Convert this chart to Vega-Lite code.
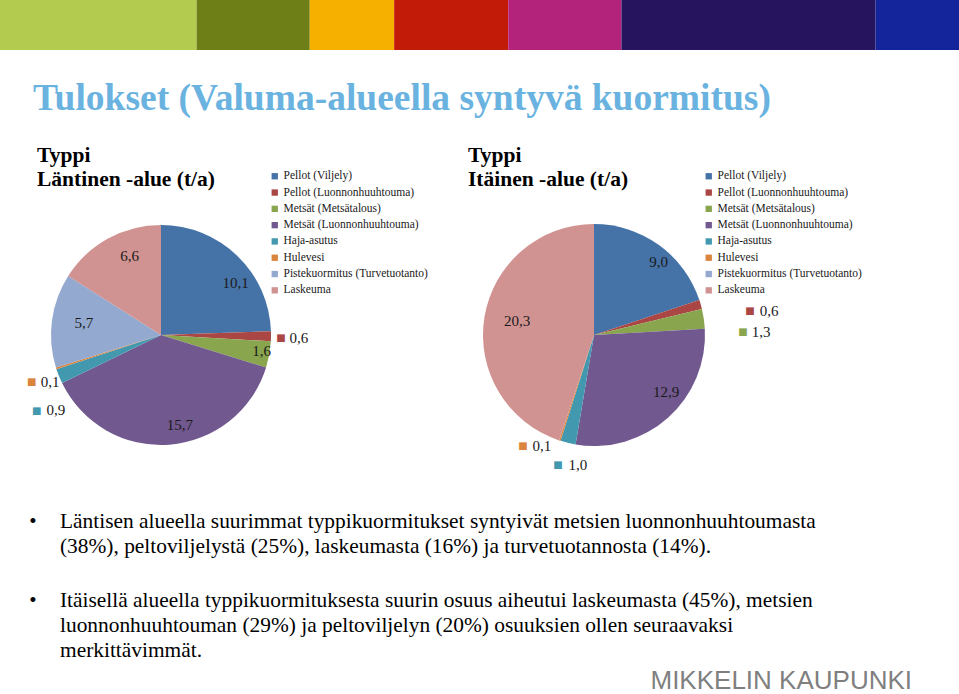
{
  "$schema": "https://vega.github.io/schema/vega-lite/v6.json",
  "padding": 0,
  "background": "white",
  "spacing": 4,
  "datasets": {
    "band": [
      {"i": 1, "seg": "a", "w": 20.5},
      {"i": 2, "seg": "b", "w": 11.8},
      {"i": 3, "seg": "c", "w": 8.8},
      {"i": 4, "seg": "d", "w": 11.9},
      {"i": 5, "seg": "e", "w": 11.8},
      {"i": 6, "seg": "f", "w": 26.5},
      {"i": 7, "seg": "g", "w": 8.7}
    ],
    "west": [
      {"i": 1, "cat": "Pellot (Viljely)", "value": 10.1},
      {"i": 2, "cat": "Pellot (Luonnonhuuhtouma)", "value": 0.6},
      {"i": 3, "cat": "Metsät (Metsätalous)", "value": 1.6},
      {"i": 4, "cat": "Metsät (Luonnonhuuhtouma)", "value": 15.7},
      {"i": 5, "cat": "Haja-asutus", "value": 0.9},
      {"i": 6, "cat": "Hulevesi", "value": 0.1},
      {"i": 7, "cat": "Pistekuormitus (Turvetuotanto)", "value": 5.7},
      {"i": 8, "cat": "Laskeuma", "value": 6.6}
    ],
    "east": [
      {"i": 1, "cat": "Pellot (Viljely)", "value": 9.0},
      {"i": 2, "cat": "Pellot (Luonnonhuuhtouma)", "value": 0.6},
      {"i": 3, "cat": "Metsät (Metsätalous)", "value": 1.3},
      {"i": 4, "cat": "Metsät (Luonnonhuuhtouma)", "value": 12.9},
      {"i": 5, "cat": "Haja-asutus", "value": 1.0},
      {"i": 6, "cat": "Hulevesi", "value": 0.1},
      {"i": 7, "cat": "Pistekuormitus (Turvetuotanto)", "value": 0},
      {"i": 8, "cat": "Laskeuma", "value": 20.3}
    ],
    "bullets": [
      {"b": 1, "lines": ["Läntisen alueella suurimmat typpikuormitukset syntyivät metsien luonnonhuuhtoumasta", "(38%), peltoviljelystä (25%), laskeumasta (16%) ja turvetuotannosta (14%)."]},
      {"b": 2, "lines": ["Itäisellä alueella typpikuormituksesta suurin osuus aiheutui laskeumasta (45%), metsien", "luonnonhuuhtouman (29%) ja peltoviljelyn (20%) osuuksien ollen seuraavaksi", "merkittävimmät."]}
    ],
    "logo": [{"t": "MIKKELIN KAUPUNKI"}]
  },
  "vconcat": [
    {
      "spacing": 27,
      "resolve": {"scale": {"color": "independent"}, "legend": {"color": "independent"}},
      "vconcat": [
        {
          "width": 959,
          "height": 50,
          "data": {"name": "band"},
          "mark": {"type": "bar"},
          "encoding": {
            "x": {"field": "w", "type": "quantitative", "stack": "zero", "scale": {"domain": [0, 100], "nice": false}, "axis": null},
            "y": {"datum": "band", "type": "nominal", "scale": {"paddingInner": 0, "paddingOuter": 0}, "axis": null},
            "color": {"field": "seg", "type": "nominal", "scale": {"domain": ["a", "b", "c", "d", "e", "f", "g"], "range": ["#B3CB4E", "#6E7F17", "#F6B000", "#C21B08", "#B4237B", "#26145E", "#14249A"]}, "legend": null},
            "order": {"field": "i", "type": "quantitative"}
          },
          "title": {
            "text": "Tulokset (Valuma-alueella syntyvä kuormitus)",
            "orient": "bottom",
            "anchor": "start",
            "frame": "group",
            "dx": 33,
            "offset": 60,
            "baseline": "alphabetic",
            "font": "Liberation Serif",
            "fontSize": 37.5,
            "fontWeight": "bold",
            "color": "#6AB3E0"
          }
        },
        {
          "bounds": "flush",
          "spacing": 20,
          "resolve": {"scale": {"color": "independent", "theta": "independent"}, "legend": {"color": "independent"}},
          "hconcat": [
            {
              "width": 322,
              "height": 282,
              "title": {"text": ["Typpi", "Läntinen -alue (t/a)"], "anchor": "start", "frame": "group", "dx": 37, "offset": -20, "font": "Liberation Serif", "fontSize": 21.5, "fontWeight": "bold", "color": "#000000", "lineHeight": 24},
              "data": {"name": "west"},
              "encoding": {
                "theta": {"field": "value", "type": "quantitative", "stack": true},
                "order": {"field": "i", "type": "quantitative"}
              },
              "layer": [
                {
                  "mark": {"type": "arc", "outerRadius": 110},
                  "encoding": {
                    "color": {
                      "field": "cat", "type": "nominal",
                      "scale": {"domain": ["Pellot (Viljely)", "Pellot (Luonnonhuuhtouma)", "Metsät (Metsätalous)", "Metsät (Luonnonhuuhtouma)", "Haja-asutus", "Hulevesi", "Pistekuormitus (Turvetuotanto)", "Laskeuma"], "range": ["#4572A7", "#AA4643", "#89A54E", "#71588F", "#4198AF", "#DB843D", "#93A9CF", "#D19392"]},
                      "legend": {"orient": "none", "legendX": 269, "legendY": -23.5, "title": null, "symbolType": "square", "symbolSize": 40, "symbolStrokeWidth": 0, "labelFont": "Liberation Serif", "labelFontSize": 11.5, "labelColor": "#1a1a1a", "rowPadding": 3.3, "padding": 0, "labelOffset": 3}
                    }
                  }
                },
                {
                  "mark": {"type": "text", "radius": 90, "dx": 12, "font": "Liberation Serif", "fontSize": 15, "color": "#1a1a1a"},
                  "encoding": {"detail": {"field": "cat"}, "text": {"condition": {"test": "datum.value >= 1.5 && datum.cat !== 'Pellot (Viljely)'", "field": "value", "type": "quantitative", "format": ".1f"}, "value": ""}}
                },
                {
                  "mark": {"type": "text", "radius": 90, "dx": 12, "dy": 13, "font": "Liberation Serif", "fontSize": 15, "color": "#1a1a1a"},
                  "encoding": {"detail": {"field": "cat"}, "text": {"condition": {"test": "datum.cat === 'Pellot (Viljely)'", "field": "value", "type": "quantitative", "format": ".1f"}, "value": ""}}
                },
                {
                  "mark": {"type": "text", "radius": 130, "dx": 8, "dy": 1.5, "font": "Liberation Serif", "fontSize": 15, "color": "#1a1a1a"},
                  "encoding": {"detail": {"field": "cat"}, "text": {"condition": {"test": "datum.cat === 'Pellot (Luonnonhuuhtouma)'", "field": "value", "type": "quantitative", "format": ".1f"}, "value": ""}}
                },
                {
                  "mark": {"type": "text", "radius": 130, "dx": -10, "dy": 1.5, "font": "DejaVu Sans", "fontSize": 10},
                  "encoding": {"color": {"field": "cat", "type": "nominal"}, "text": {"condition": {"test": "datum.cat === 'Pellot (Luonnonhuuhtouma)'", "value": "■"}, "value": ""}}
                },
                {
                  "mark": {"type": "text", "radius": 130, "dx": 13, "dy": 7.6, "font": "Liberation Serif", "fontSize": 15, "color": "#1a1a1a"},
                  "encoding": {"detail": {"field": "cat"}, "text": {"condition": {"test": "datum.cat === 'Hulevesi'", "field": "value", "type": "quantitative", "format": ".1f"}, "value": ""}}
                },
                {
                  "mark": {"type": "text", "radius": 130, "dx": -5.4, "dy": 7.6, "font": "DejaVu Sans", "fontSize": 10},
                  "encoding": {"color": {"field": "cat", "type": "nominal"}, "text": {"condition": {"test": "datum.cat === 'Hulevesi'", "value": "■"}, "value": ""}}
                },
                {
                  "mark": {"type": "text", "radius": 130, "dx": 15.5, "dy": 26.3, "font": "Liberation Serif", "fontSize": 15, "color": "#1a1a1a"},
                  "encoding": {"detail": {"field": "cat"}, "text": {"condition": {"test": "datum.cat === 'Haja-asutus'", "field": "value", "type": "quantitative", "format": ".1f"}, "value": ""}}
                },
                {
                  "mark": {"type": "text", "radius": 130, "dx": -3.8, "dy": 27, "font": "DejaVu Sans", "fontSize": 10},
                  "encoding": {"color": {"field": "cat", "type": "nominal"}, "text": {"condition": {"test": "datum.cat === 'Haja-asutus'", "value": "■"}, "value": ""}}
                }
              ]
            },
            {
              "width": 504,
              "height": 282,
              "title": {"text": ["Typpi", "Itäinen -alue (t/a)"], "anchor": "start", "frame": "group", "dx": 126, "offset": -20, "font": "Liberation Serif", "fontSize": 21.5, "fontWeight": "bold", "color": "#000000", "lineHeight": 24},
              "data": {"name": "east"},
              "encoding": {
                "theta": {"field": "value", "type": "quantitative", "stack": true},
                "order": {"field": "i", "type": "quantitative"}
              },
              "layer": [
                {
                  "mark": {"type": "arc", "outerRadius": 111},
                  "encoding": {
                    "color": {
                      "field": "cat", "type": "nominal",
                      "scale": {"domain": ["Pellot (Viljely)", "Pellot (Luonnonhuuhtouma)", "Metsät (Metsätalous)", "Metsät (Luonnonhuuhtouma)", "Haja-asutus", "Hulevesi", "Pistekuormitus (Turvetuotanto)", "Laskeuma"], "range": ["#4572A7", "#AA4643", "#89A54E", "#71588F", "#4198AF", "#DB843D", "#93A9CF", "#D19392"]},
                      "legend": {"orient": "none", "legendX": 361, "legendY": -23.5, "title": null, "symbolType": "square", "symbolSize": 40, "symbolStrokeWidth": 0, "labelFont": "Liberation Serif", "labelFontSize": 11.5, "labelColor": "#1a1a1a", "rowPadding": 3.3, "padding": 0, "labelOffset": 3}
                    }
                  }
                },
                {
                  "mark": {"type": "text", "radius": 90, "dx": 12, "font": "Liberation Serif", "fontSize": 15, "color": "#1a1a1a"},
                  "encoding": {"detail": {"field": "cat"}, "text": {"condition": {"test": "datum.value >= 1.5 && datum.cat !== 'Metsät (Luonnonhuuhtouma)'", "field": "value", "type": "quantitative", "format": ".1f"}, "value": ""}}
                },
                {
                  "mark": {"type": "text", "radius": 90, "dx": 12, "dy": -10, "font": "Liberation Serif", "fontSize": 15, "color": "#1a1a1a"},
                  "encoding": {"detail": {"field": "cat"}, "text": {"condition": {"test": "datum.cat === 'Metsät (Luonnonhuuhtouma)'", "field": "value", "type": "quantitative", "format": ".1f"}, "value": ""}}
                },
                {
                  "mark": {"type": "text", "radius": 130, "dx": 50, "dy": 11.7, "font": "Liberation Serif", "fontSize": 15, "color": "#1a1a1a"},
                  "encoding": {"detail": {"field": "cat"}, "text": {"condition": {"test": "datum.cat === 'Pellot (Luonnonhuuhtouma)'", "field": "value", "type": "quantitative", "format": ".1f"}, "value": ""}}
                },
                {
                  "mark": {"type": "text", "radius": 130, "dx": 31, "dy": 11.7, "font": "DejaVu Sans", "fontSize": 10},
                  "encoding": {"color": {"field": "cat", "type": "nominal"}, "text": {"condition": {"test": "datum.cat === 'Pellot (Luonnonhuuhtouma)'", "value": "■"}, "value": ""}}
                },
                {
                  "mark": {"type": "text", "radius": 130, "dx": 38.4, "dy": 15.9, "font": "Liberation Serif", "fontSize": 15, "color": "#1a1a1a"},
                  "encoding": {"detail": {"field": "cat"}, "text": {"condition": {"test": "datum.cat === 'Metsät (Metsätalous)'", "field": "value", "type": "quantitative", "format": ".1f"}, "value": ""}}
                },
                {
                  "mark": {"type": "text", "radius": 130, "dx": 20.4, "dy": 15.9, "font": "DejaVu Sans", "fontSize": 10},
                  "encoding": {"color": {"field": "cat", "type": "nominal"}, "text": {"condition": {"test": "datum.cat === 'Metsät (Metsätalous)'", "value": "■"}, "value": ""}}
                },
                {
                  "mark": {"type": "text", "radius": 130, "dx": -12, "dy": -12.7, "font": "Liberation Serif", "fontSize": 15, "color": "#1a1a1a"},
                  "encoding": {"detail": {"field": "cat"}, "text": {"condition": {"test": "datum.cat === 'Hulevesi'", "field": "value", "type": "quantitative", "format": ".1f"}, "value": ""}}
                },
                {
                  "mark": {"type": "text", "radius": 130, "dx": -31, "dy": -12.7, "font": "DejaVu Sans", "fontSize": 10},
                  "encoding": {"color": {"field": "cat", "type": "nominal"}, "text": {"condition": {"test": "datum.cat === 'Hulevesi'", "value": "■"}, "value": ""}}
                },
                {
                  "mark": {"type": "text", "radius": 130, "dx": 14.3, "dy": 3.6, "font": "Liberation Serif", "fontSize": 15, "color": "#1a1a1a"},
                  "encoding": {"detail": {"field": "cat"}, "text": {"condition": {"test": "datum.cat === 'Haja-asutus'", "field": "value", "type": "quantitative", "format": ".1f"}, "value": ""}}
                },
                {
                  "mark": {"type": "text", "radius": 130, "dx": -5.7, "dy": 3.6, "font": "DejaVu Sans", "fontSize": 10},
                  "encoding": {"color": {"field": "cat", "type": "nominal"}, "text": {"condition": {"test": "datum.cat === 'Haja-asutus'", "value": "■"}, "value": ""}}
                }
              ]
            }
          ]
        }
      ]
    },
    {
      "width": 959,
      "height": 186,
      "layer": [
        {
          "data": {"name": "bullets"},
          "mark": {"type": "text", "align": "left", "baseline": "alphabetic", "font": "Liberation Serif", "fontSize": 21.4, "lineHeight": 25.3, "color": "#000000"},
          "encoding": {
            "x": {"value": 60},
            "y": {"field": "b", "type": "ordinal", "scale": {"type": "point", "range": [24.5, 103.5], "padding": 0}, "axis": null},
            "text": {"field": "lines"}
          }
        },
        {
          "data": {"name": "bullets"},
          "mark": {"type": "text", "align": "center", "baseline": "alphabetic", "font": "Liberation Serif", "fontSize": 21, "color": "#000000", "text": "•"},
          "encoding": {
            "x": {"value": 33},
            "y": {"field": "b", "type": "ordinal", "axis": null}
          }
        },
        {
          "data": {"name": "logo"},
          "mark": {"type": "text", "align": "right", "baseline": "alphabetic", "font": "Liberation Sans", "fontSize": 26, "color": "#7F7F7F"},
          "encoding": {
            "x": {"value": 912},
            "y": {"value": 186},
            "text": {"field": "t"}
          }
        }
      ]
    }
  ],
  "resolve": {"scale": {"color": "independent"}, "legend": {"color": "independent"}},
  "config": {
    "view": {"stroke": null},
    "font": "Liberation Serif",
    "locale": {"number": {"decimal": ",", "thousands": " ", "grouping": [3], "currency": ["", " €"]}}
  }
}
